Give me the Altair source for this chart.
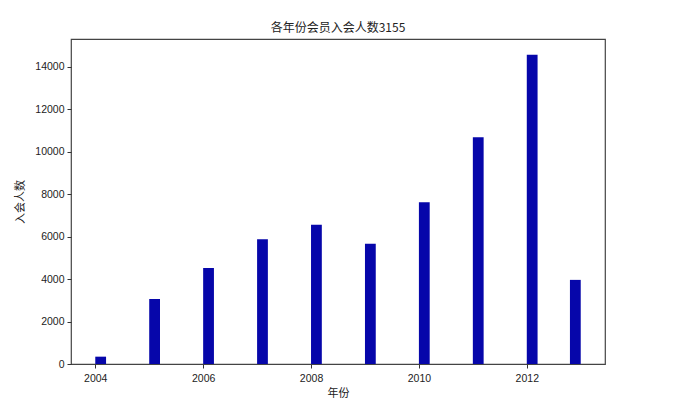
import altair as alt
import pandas as pd

# Histogram bins (left edges, in years) and counts
bin_start = [2004, 2005, 2006, 2007, 2008, 2009, 2010, 2011, 2012, 2012.8]
counts = [345, 3060, 4520, 5870, 6560, 5660, 7620, 10680, 14560, 3960]
bin_width = 0.2
x_ticks = [2004, 2006, 2008, 2010, 2012]
y_ticks = [0, 2000, 4000, 6000, 8000, 10000, 12000, 14000]

df = pd.DataFrame({
    "start": bin_start,
    "end": [s + bin_width for s in bin_start],
    "count": counts,
})

NUM_FONT = "Liberation Sans"
CJK_FONT = "Noto Sans CJK SC"

chart = alt.Chart(df).mark_rect(color="#0606AA").encode(
    x=alt.X("start:Q",
            scale=alt.Scale(domain=[2003.55, 2013.45], nice=False, zero=False),
            axis=alt.Axis(values=x_ticks, format="d", title="年份",
                          grid=False, tickSize=4, tickColor="#333",
                          domain=False, labelFont=NUM_FONT, labelFontSize=10.5,
                          labelColor="#222", labelPadding=5,
                          titleFont=CJK_FONT, titleFontSize=11,
                          titleFontWeight="normal", titleColor="#222",
                          titlePadding=4, labelFlush=False)),
    x2="end:Q",
    y=alt.Y("count:Q",
            scale=alt.Scale(domain=[0, 15300], nice=False),
            axis=alt.Axis(values=y_ticks, format="d", title="入会人数",
                          grid=False, tickSize=4, tickColor="#333",
                          domain=False, labelFont=NUM_FONT, labelFontSize=10.5,
                          labelColor="#222", labelPadding=3,
                          titleFont=CJK_FONT, titleFontSize=11,
                          titleFontWeight="normal", titleColor="#222",
                          titlePadding=9, labelFlush=False)),
    y2=alt.datum(0),
).properties(
    width=534,
    height=325,
    title=alt.TitleParams("各年份会员入会人数3155", font=CJK_FONT, fontSize=12,
                          fontWeight="normal", color="#222", offset=4),
    autosize=alt.AutoSizeParams(type="none"),
    padding={"left": 63, "top": 31, "right": 66, "bottom": 40},
).configure(
    background="white"
).configure_view(
    stroke="#444", strokeWidth=1.2
)

chart.save("out.html", embed_options={"renderer": "svg", "actions": False})
